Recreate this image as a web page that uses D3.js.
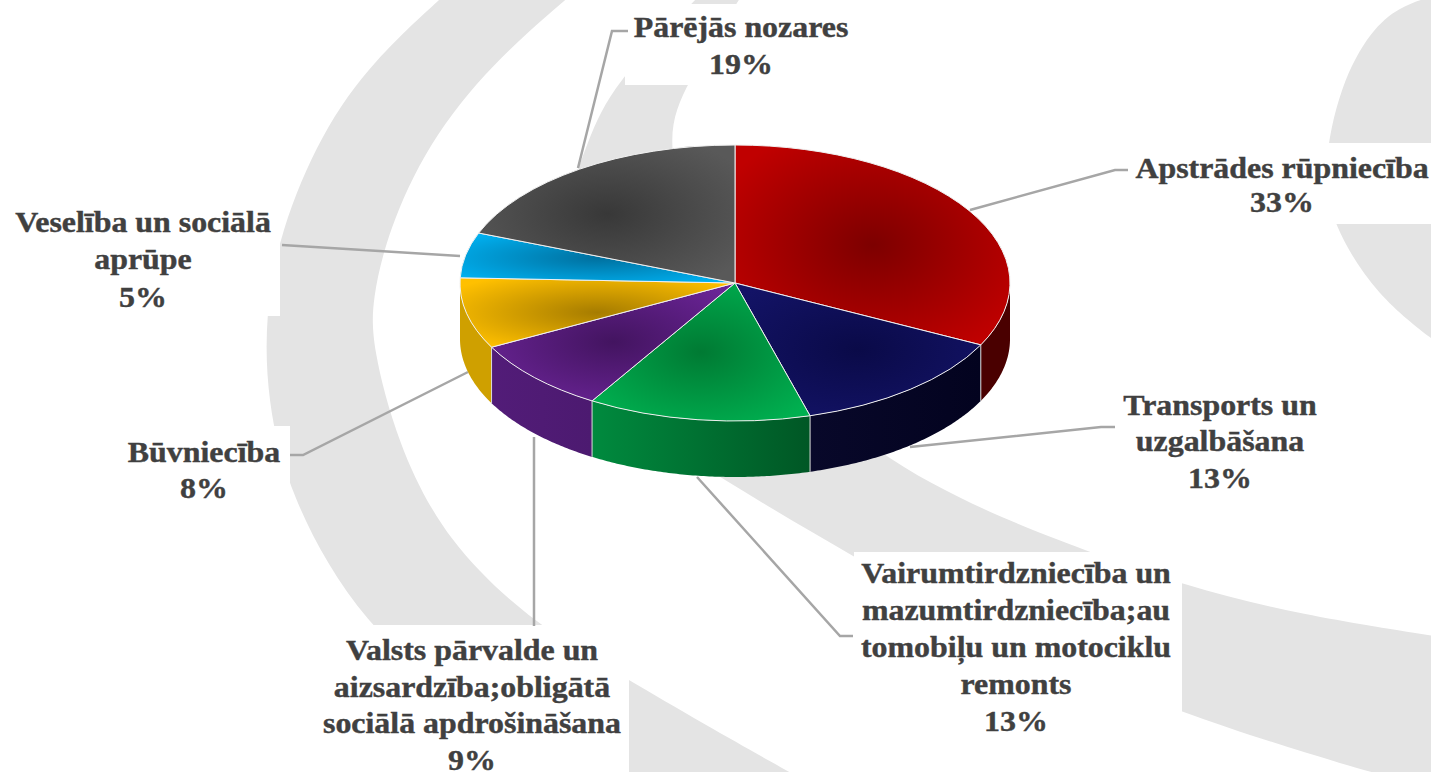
<!DOCTYPE html>
<html>
<head>
<meta charset="utf-8">
<script src="https://cdn.jsdelivr.net/npm/d3@7"></script>
<style>
    html, body { margin: 0; padding: 0; background: #fff; }
    svg { display: block; }
    text { font-family: "Liberation Serif", serif; font-weight: bold; fill: #404040; stroke: #404040; stroke-width: 0.4; }
</style>
</head>
<body>
<svg id="chart" width="1431" height="772"></svg>
<script>
'use strict';

var sliceNames = ['Apstrādes rūpniecība', 'Transports un uzgalbāšana', 'Vairumtirdzniecība un mazumtirdzniecība;autotomobiļu un motociklu remonts',
    'Valsts pārvalde un aizsardzība;obligātā sociālā apdrošināšana', 'Būvniecība', 'Veselība un sociālā aprūpe', 'Pārējās nozares'];
var sliceShares = [32.4, 13.2, 13.1, 8.6, 8.3, 5.3, 19.1];
var percentLabels = ['33%', '13%', '13%', '9%', '8%', '5%', '19%'];
var labelLines = [
    ['Apstrādes rūpniecība'],
    ['Transports un', 'uzgalbāšana'],
    ['Vairumtirdzniecība un', 'mazumtirdzniecība;au', 'tomobiļu un motociklu', 'remonts'],
    ['Valsts pārvalde un', 'aizsardzība;obligātā', 'sociālā apdrošināšana'],
    ['Būvniecība'],
    ['Veselība un sociālā', 'aprūpe'],
    ['Pārējās nozares']
];

var topEdge = ['#c00000', '#131366', '#00b050', '#6a2496', '#ffc000', '#00b0f0', '#595959'];
var topCore = ['#7d0000', '#0a0a48', '#007a33', '#431460', '#a67c00', '#00709f', '#383838'];
var wallLeft = ['#4a0000', '#08082a', '#008a3e', '#521c78', '#cfa000', '#0090c0', '#333333'];
var wallRight = ['#4a0000', '#03031f', '#005725', '#4c1a70', '#cfa000', '#0090c0', '#333333'];

var labelLayout = [
    { x: 1282, y: 178, step: 34 },
    { x: 1220, y: 415, step: 36.5 },
    { x: 1016, y: 583, step: 37 },
    { x: 472, y: 660, step: 36.7 },
    { x: 204, y: 462, step: 36 },
    { x: 143, y: 232, step: 37.5 },
    { x: 741, y: 37, step: 37 }
];

var leaderLines = [
    [[970, 210], [1115, 170], [1128, 170]],
    [[910, 447], [1101, 427], [1115, 427]],
    [[697, 477], [840, 636], [853, 636]],
    [[534, 437], [534, 626]],
    [[468, 372], [303, 455], [290, 455]],
    [[460, 256], [282, 245]],
    [[578, 168], [612, 31], [628, 31]]
];

// white plates behind the labels, they cut the watermark: x, y, w, h
var labelPlates = [
    [1135, 143, 296, 81],
    [1110, 390, 215, 105],
    [854, 552, 328, 220],
    [320, 625, 309, 147],
    [120, 426, 170, 69],
    [0, 205, 280, 111],
    [625, 4, 225, 81]
];

// grey watermark shapes behind the chart, two edges each
var backdropBands = [
    {
        a: [[450, -10], [373, 60], [321, 133], [280, 231], [265, 315], [267, 400], [288, 493], [360, 625], [480, 720], [577, 780]],
        b: [[571, -5], [491, 64], [428, 143], [388, 231], [372, 300], [372, 345], [397, 443], [446, 542], [535, 625], [629, 680], [700, 722], [800, 778]]
    },
    {
        a: [[700, -5], [612, 85], [588, 140], [560, 220], [545, 300], [600, 400], [723, 480], [854, 557], [1000, 640], [1182, 714], [1353, 768], [1440, 790]],
        b: [[742, -5], [685, 85], [660, 148], [720, 300], [868, 463], [1073, 547], [1185, 586], [1300, 615], [1440, 637]]
    },
    {
        a: [[1430, -3], [1399, 7], [1371, 30], [1340, 85], [1322, 170], [1332, 224], [1376, 296], [1440, 345]],
        b: [[1440, -3]]
    }
];

var cx = 735, cy = 283, rx = 275, ry = 138, depth = 56;

var svg = d3.select('#chart');
var defs = svg.append('defs');

var edgeLine = d3.line().curve(d3.curveBasis);
svg.append('g').selectAll('path')
    .data(backdropBands)
    .enter()
    .append('path')
    .attr('d', function (d) {
        var back = d.b.slice().reverse();
        return edgeLine(d.a) + 'L' + edgeLine(back).slice(1) + 'Z';
    })
    .attr('fill', '#e4e4e4');

svg.append('g').selectAll('rect')
    .data(labelPlates)
    .enter()
    .append('rect')
    .attr('x', function (d) { return d[0]; })
    .attr('y', function (d) { return d[1]; })
    .attr('width', function (d) { return d[2]; })
    .attr('height', function (d) { return d[3]; })
    .attr('fill', '#fff');

svg.append('g').selectAll('path')
    .data(leaderLines)
    .enter()
    .append('path')
    .attr('d', d3.line())
    .attr('fill', 'none')
    .attr('stroke', '#a6a6a6')
    .attr('stroke-width', 2.5);

var pie = d3.pie().sort(null).value(function (d) { return d; });
var slices = pie(sliceShares);
var arc = d3.arc().innerRadius(0).outerRadius(rx);

function rimX(a) { return cx + rx * Math.sin(a); }
function rimY(a) { return cy - ry * Math.cos(a); }

// walls, only the front half of the rim shows
var wallLine = d3.line();
var wallG = svg.append('g');
slices.forEach(function (s, i) {
    var a0 = Math.max(s.startAngle, Math.PI / 2);
    var a1 = Math.min(s.endAngle, Math.PI * 1.5);
    if (a1 <= a0) {
        return;
    }
    var grad = defs.append('linearGradient').attr('id', 'wall' + i);
    grad.append('stop').attr('offset', '0%').attr('stop-color', wallLeft[i]);
    grad.append('stop').attr('offset', '100%').attr('stop-color', wallRight[i]);

    var steps = d3.range(a0, a1, 0.01).concat([a1]);
    var top = steps.map(function (a) { return [rimX(a), rimY(a)]; });
    var bottom = steps.slice().reverse().map(function (a) { return [rimX(a), rimY(a) + depth]; });
    wallG.append('path')
        .attr('d', wallLine(top.concat(bottom)) + 'Z')
        .attr('fill', 'url(#wall' + i + ')');
});

// seams between walls
wallG.selectAll('line')
    .data(slices.filter(function (s) { return s.endAngle > Math.PI / 2 && s.endAngle < Math.PI * 1.5; }))
    .enter()
    .append('line')
    .attr('x1', function (d) { return rimX(d.endAngle); })
    .attr('x2', function (d) { return rimX(d.endAngle); })
    .attr('y1', function (d) { return rimY(d.endAngle); })
    .attr('y2', function (d) { return rimY(d.endAngle) + depth; })
    .attr('stroke', '#d9d9d9')
    .attr('stroke-width', 1);

// top faces, drawn as a circle and squashed. gradient sits on each slice's own box
slices.forEach(function (s, i) {
    var grad = defs.append('radialGradient')
        .attr('id', 'top' + i)
        .attr('cx', '50%')
        .attr('cy', '50%')
        .attr('r', '62%');
    grad.append('stop').attr('offset', '0%').attr('stop-color', topCore[i]);
    grad.append('stop').attr('offset', '100%').attr('stop-color', topEdge[i]);
});

var topG = svg.append('g')
    .attr('transform', 'translate(' + cx + ',' + cy + ') scale(1,' + (ry / rx) + ')');

topG.selectAll('path')
    .data(slices)
    .enter()
    .append('path')
    .attr('d', arc)
    .attr('fill', function (d, i) { return 'url(#top' + i + ')'; })
    .attr('stroke', '#f0f0f0')
    .attr('stroke-width', 1)
    .attr('vector-effect', 'non-scaling-stroke')
    .append('title')
    .text(function (d, i) { return sliceNames[i]; });

// labels, the reference text is stretched sideways
var labelG = svg.append('g').selectAll('text')
    .data(labelLines)
    .enter()
    .append('text')
    .attr('text-anchor', 'middle')
    .attr('font-size', 29)
    .attr('transform', function (d, i) {
        return 'translate(' + labelLayout[i].x + ',' + labelLayout[i].y + ') scale(1.1,1)';
    });

labelG.selectAll('tspan')
    .data(function (d, i) {
        return d.concat([percentLabels[i]]).map(function (line, j) {
            return { line: line, y: j * labelLayout[i].step };
        });
    })
    .enter()
    .append('tspan')
    .attr('x', 0)
    .attr('y', function (d) { return d.y; })
    .text(function (d) { return d.line; });
</script>
</body>
</html>
